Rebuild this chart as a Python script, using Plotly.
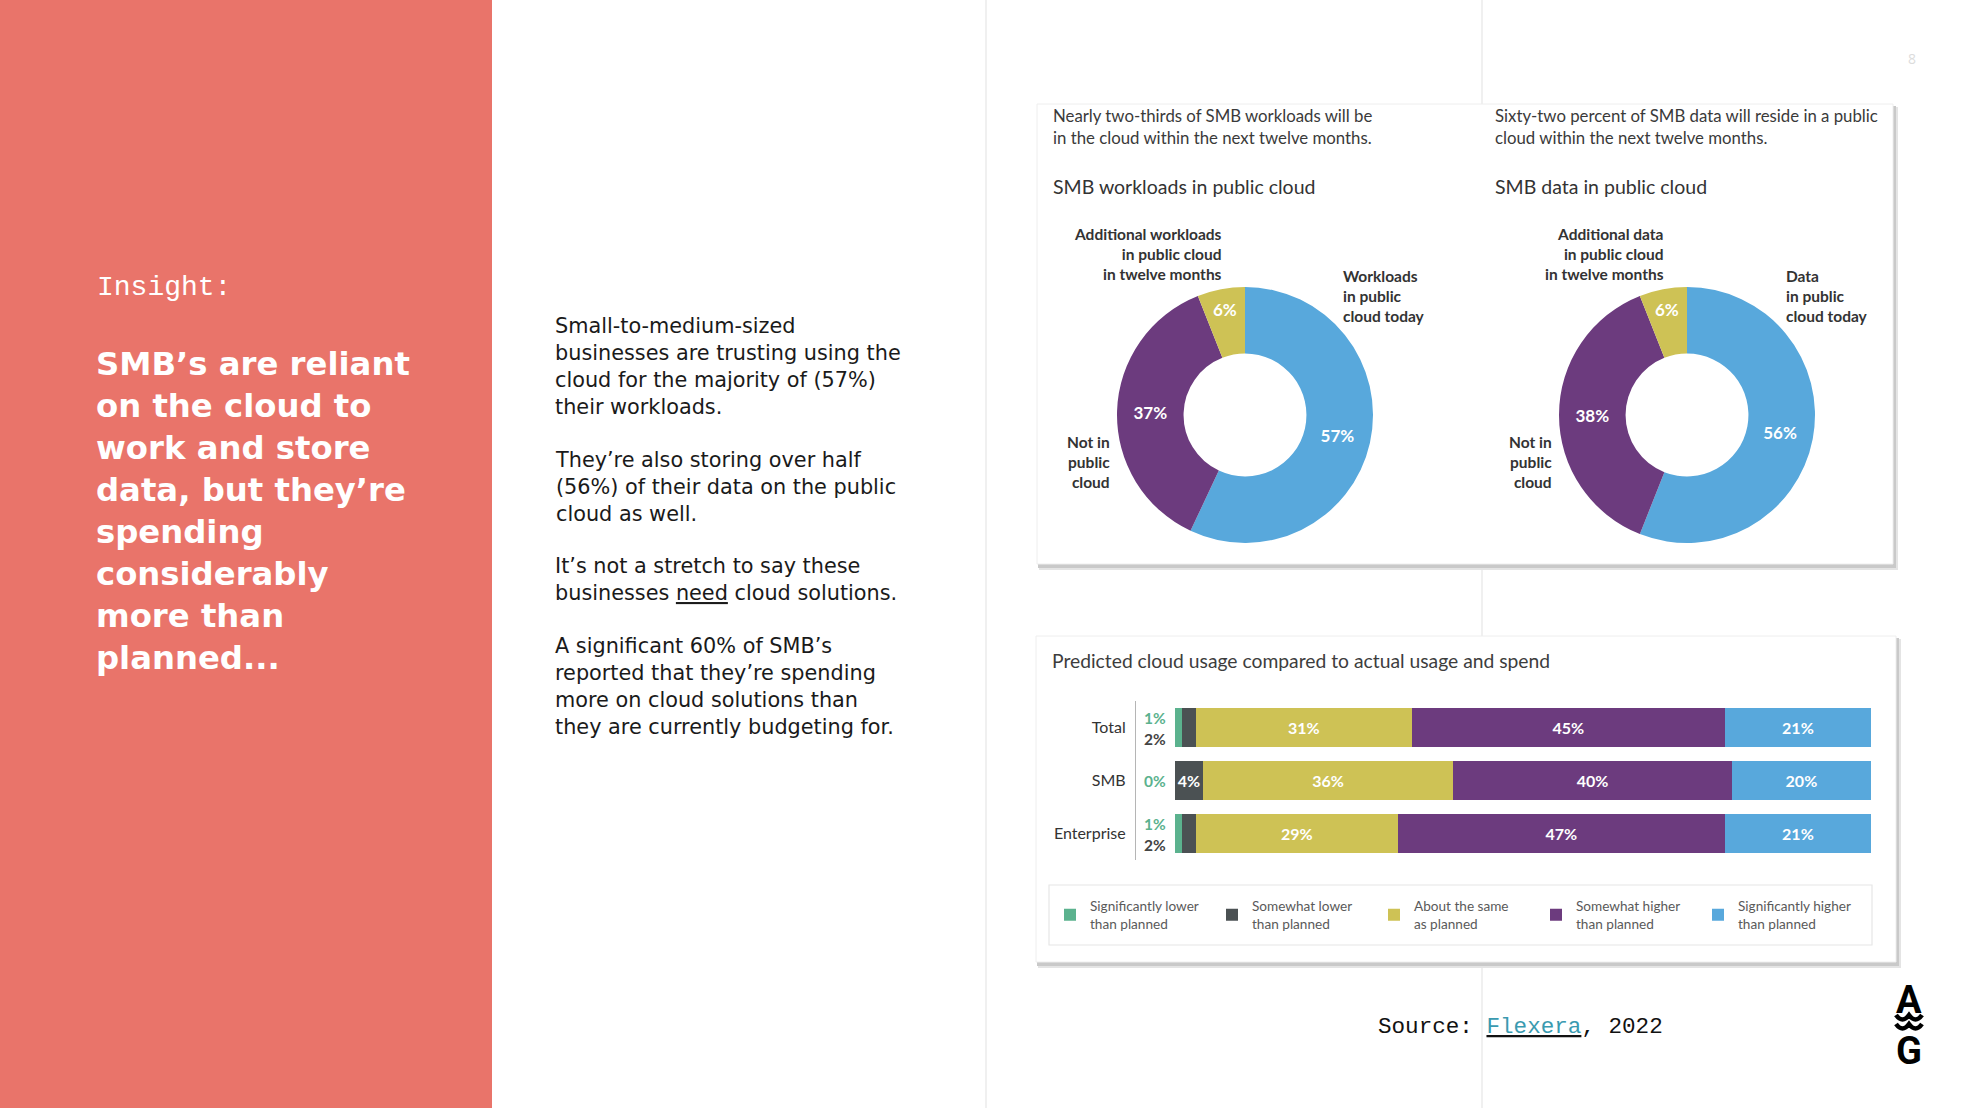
import plotly.graph_objects as go

# ---------------- data ----------------
workload_slices = ["Workloads in public cloud today", "Not in public cloud",
                   "Additional workloads in public cloud in twelve months"]
workload_pct = [57, 37, 6]
data_slices = ["Data in public cloud today", "Not in public cloud",
               "Additional data in public cloud in twelve months"]
data_pct = [56, 38, 6]

usage_categories = ["Total", "SMB", "Enterprise"]
legend_labels = ["Significantly lower<br>than planned", "Somewhat lower<br>than planned",
                 "About the same<br>as planned", "Somewhat higher<br>than planned",
                 "Significantly higher<br>than planned"]
significantly_lower = [1, 0, 1]
somewhat_lower = [2, 4, 2]
about_same = [31, 36, 29]
somewhat_higher = [45, 40, 47]
significantly_higher = [21, 20, 21]

headline_lines = ["SMB’s are reliant", "on the cloud to", "work and store",
                  "data, but they’re", "spending", "considerably", "more than", "planned..."]
body_paragraphs = [
    ["Small-to-medium-sized", "businesses are trusting using the",
     "cloud for the majority of (57%)", "their workloads."],
    ["They’re also storing over half", "(56%) of their data on the public", "cloud as well."],
    ["It’s not a stretch to say these", "businesses <u>need</u> cloud solutions."],
    ["A significant 60% of SMB’s", "reported that they’re spending",
     "more on cloud solutions than", "they are currently budgeting for."],
]

# ---------------- style ----------------
W, H = 1974, 1108
SALMON = "#E9746A"
GREEN = "#5BB28E"
DGREY = "#4B5153"
YELLOW = "#CEC255"
PURPLE = "#6C3B7E"
BLUE = "#58A8DC"
CHART_FONT = "Lato"


def px(x):
    return x / W


def py(y):
    return 1 - y / H


fig = go.Figure()

# ---------------- donuts ----------------
def donut(values, cx, cy, r):
    return go.Pie(
        values=values,
        text=[f"{v}%" for v in values],
        textinfo="text",
        textposition="inside",
        insidetextorientation="horizontal",
        textfont=dict(family=CHART_FONT, size=17, color="white", weight="bold"),
        marker=dict(colors=[BLUE, PURPLE, YELLOW], line=dict(width=0)),
        hole=0.48, sort=False, direction="clockwise", rotation=0,
        domain=dict(x=[px(cx - r), px(cx + r)], y=[py(cy + r), py(cy - r)]),
        showlegend=False, hoverinfo="skip",
    )


fig.add_trace(donut(workload_pct, 1245, 415, 128))
fig.add_trace(donut(data_pct, 1687, 415, 128))

# ---------------- stacked bars ----------------
series_values = [significantly_lower, somewhat_lower, about_same, somewhat_higher, significantly_higher]
series_colors = [GREEN, DGREY, YELLOW, PURPLE, BLUE]
for name, vals, col in zip(legend_labels, series_values, series_colors):
    fig.add_trace(go.Bar(
        orientation="h", y=usage_categories, x=vals, name=name,
        marker=dict(color=col, line=dict(width=0)),
        text=[f"{v}%" if v >= 4 else "" for v in vals],
        textposition="inside", insidetextanchor="middle", textangle=0, constraintext="none",
        textfont=dict(family=CHART_FONT, size=16, color="white", weight="bold"),
        hoverinfo="skip",
    ))

fig.update_layout(
    barmode="stack", bargap=0.26,
    xaxis=dict(domain=[px(1136), px(1871)], range=[-5.6, 100], visible=False, fixedrange=True),
    yaxis=dict(domain=[py(860), py(701)], categoryorder="array", categoryarray=usage_categories,
               autorange="reversed", showline=True, linecolor="#b5b5b5", linewidth=1.2,
               showgrid=False, zeroline=False, ticks="", ticklabelstandoff=6, fixedrange=True,
               tickfont=dict(family=CHART_FONT, size=16, color="#333333")),
)

# ---------------- shapes ----------------
shapes = []
shapes.append(dict(type="rect", xref="paper", yref="paper", x0=0, x1=px(492), y0=0, y1=1,
                   fillcolor=SALMON, line=dict(width=0), layer="below"))
for lx in (986, 1482):
    shapes.append(dict(type="line", xref="paper", yref="paper", x0=px(lx), x1=px(lx), y0=0, y1=1,
                       line=dict(color="#ebebeb", width=1.5), layer="below"))


def card(x0, y0, x1, y1):
    out = []
    out.append(dict(type="rect", xref="paper", yref="paper", x0=px(x0 + 2), x1=px(x1 + 5),
                    y0=py(y1 + 6), y1=py(y0 + 3), fillcolor="#e4e4e4", line=dict(width=0), layer="below"))
    out.append(dict(type="rect", xref="paper", yref="paper", x0=px(x0 + 1), x1=px(x1 + 3),
                    y0=py(y1 + 4), y1=py(y0 + 2), fillcolor="#c9c9c9", line=dict(width=0), layer="below"))
    out.append(dict(type="rect", xref="paper", yref="paper", x0=px(x0), x1=px(x1),
                    y0=py(y1), y1=py(y0), fillcolor="white", line=dict(color="#eeeeee", width=1),
                    layer="below"))
    return out


shapes += card(1037, 104, 1893, 564)
shapes += card(1036, 636, 1896, 962)
shapes.append(dict(type="rect", xref="paper", yref="paper", x0=px(1049), x1=px(1872),
                   y0=py(945), y1=py(885), fillcolor="rgba(0,0,0,0)",
                   line=dict(color="#e6e6e6", width=1.2), layer="below"))


# AWG logo wave
def wave(y):
    pts = [(1896, y), (1902.5, y + 9), (1909, y), (1915.5, y + 9), (1922, y)]
    (x0, y0), (cx1, cy1), (x1, y1), (cx2, cy2), (x2, y2) = pts
    return (f"M {px(x0)},{py(y0)} Q {px(cx1)},{py(cy1)} {px(x1)},{py(y1)} "
            f"Q {px(cx2)},{py(cy2)} {px(x2)},{py(y2)}")


for wy in (1015, 1024):
    shapes.append(dict(type="path", xref="paper", yref="paper", path=wave(wy),
                       line=dict(color="black", width=4.5)))
fig.update_layout(shapes=shapes)

# ---------------- annotations ----------------
ann = []


def text(x, y, s, size, color="#333333", family=CHART_FONT, xanchor="left", yanchor="middle",
         align="left", weight="normal"):
    ann.append(dict(xref="paper", yref="paper", x=px(x), y=py(y), text=s, showarrow=False,
                    xanchor=xanchor, yanchor=yanchor, align=align,
                    font=dict(family=family, size=size, color=color, weight=weight)))


# left panel
text(95, 287, "Insight:", 28, color="white", family="Liberation Mono")
text(94, 511, "<br>".join(headline_lines), 32.3, color="white", family="DejaVu Sans", weight="bold")

para_centres = [366, 487, 579, 686]
for p, yc in zip(body_paragraphs, para_centres):
    text(553, yc, "<br>".join(p), 20.8, color="#1a1a1a", family="DejaVu Sans")

text(1912, 59, "8", 14, color="#dcdcdc", family="Open Sans", xanchor="center")

# donut card
text(1051, 126, "Nearly two-thirds of SMB workloads will be<br>in the cloud within the next twelve months.",
     16.8, color="#3a3a3a")
text(1493, 126, "Sixty-two percent of SMB data will reside in a public<br>cloud within the next twelve months.",
     16.8, color="#3a3a3a")
text(1051, 187, "SMB workloads in public cloud", 19.5, color="#333333")
text(1493, 187, "SMB data in public cloud", 19.5, color="#333333")

LBL = 15.5
text(1224, 254, "Additional workloads<br>in public cloud<br>in twelve months", LBL,
     xanchor="right", align="right", weight="bold")
text(1341, 296, "Workloads<br>in public<br>cloud today", LBL, weight="bold")
text(1112, 462, "Not in<br>public<br>cloud", LBL, xanchor="right", align="right", weight="bold")
text(1666, 254, "Additional data<br>in public cloud<br>in twelve months", LBL,
     xanchor="right", align="right", weight="bold")
text(1784, 296, "Data<br>in public<br>cloud today", LBL, weight="bold")
text(1554, 462, "Not in<br>public<br>cloud", LBL, xanchor="right", align="right", weight="bold")

# bar card
text(1050, 660, "Predicted cloud usage compared to actual usage and spend", 19.3, color="#3d3d3d")

# small-segment labels between the axis line and bars
for cat, g, d in zip(usage_categories, significantly_lower, somewhat_lower):
    if d < 4:
        ann.append(dict(xref="x", yref="y", x=-2.8, y=cat, text=f"{g}%", showarrow=False, yshift=10,
                        font=dict(family=CHART_FONT, size=15.5, color=GREEN, weight="bold")))
        ann.append(dict(xref="x", yref="y", x=-2.8, y=cat, text=f"{d}%", showarrow=False, yshift=-11,
                        font=dict(family=CHART_FONT, size=15.5, color="#444444", weight="bold")))
    else:
        ann.append(dict(xref="x", yref="y", x=-2.8, y=cat, text=f"{g}%", showarrow=False,
                        font=dict(family=CHART_FONT, size=15.5, color=GREEN, weight="bold")))

# source and logo
text(1376, 1027, "Source: <u><span style='color:#3a9ab0'>Flexera</span></u>, 2022", 22.6,
     color="#111111", family="Liberation Mono")
text(1909, 1000, "A", 38, color="black", family="Roboto", xanchor="center", weight="bold")
text(1909, 1051, "G", 38, color="black", family="Roboto", xanchor="center", weight="bold")

fig.update_layout(annotations=ann)

fig.update_layout(
    width=W, height=H, margin=dict(l=0, r=0, t=0, b=0),
    paper_bgcolor="white", plot_bgcolor="rgba(0,0,0,0)",
    showlegend=True,
    legend=dict(orientation="h", x=px(1050), y=py(915), xanchor="left", yanchor="middle",
                bgcolor="rgba(0,0,0,0)", borderwidth=0, entrywidth=117, traceorder="normal",
                font=dict(family=CHART_FONT, size=13.6, color="#5a5a5a")),
)

fig.write_html("out.html", config={"displayModeBar": False},
               post_script="document.body.style.margin='0';document.body.style.padding='0';"
                           "document.body.style.overflow='hidden';")
